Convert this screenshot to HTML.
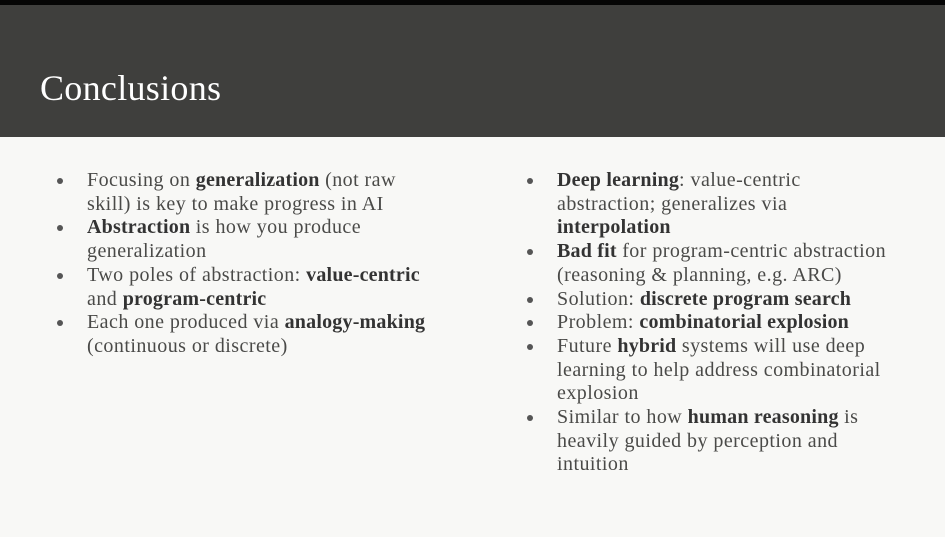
<!DOCTYPE html>
<html><head><style>
html,body{margin:0;padding:0}
body{width:945px;height:537px;overflow:hidden;background:#f8f8f6;position:relative;font-family:"Liberation Serif",serif}
.top{position:absolute;left:0;top:0;width:945px;height:5px;background:#050505}
.hdr{position:absolute;left:0;top:5px;width:945px;height:132px;background:#3f3f3d}
.title{position:absolute;left:40px;top:67px;color:#fff;font-size:36px;letter-spacing:0.3px}
ul{position:absolute;margin:0;padding:0;list-style:none;font-size:20px;letter-spacing:0.45px;line-height:23.7px;color:#4a4a48;white-space:nowrap}
li{position:relative;padding-left:0}
li:before{content:"";position:absolute;left:-30px;top:9px;width:6px;height:6px;border-radius:50%;background:#555}
b{color:#333;letter-spacing:0.2px}
</style></head><body>
<div class="top"></div><div class="hdr"></div>
<div class="title">Conclusions</div>
<ul style="left:87px;top:169px">
<li>Focusing on <b>generalization</b> (not raw<br>skill) is key to make progress in AI</li>
<li><b>Abstraction</b> is how you produce<br>generalization</li>
<li>Two poles of abstraction: <b>value-centric</b><br>and <b>program-centric</b></li>
<li>Each one produced via <b>analogy-making</b><br>(continuous or discrete)</li>
</ul>
<ul style="left:557px;top:169px">
<li><b>Deep learning</b>: value-centric<br>abstraction; generalizes via<br><b>interpolation</b></li>
<li><b>Bad fit</b> for program-centric abstraction<br>(reasoning &amp; planning, e.g. ARC)</li>
<li>Solution: <b>discrete program search</b></li>
<li>Problem: <b>combinatorial explosion</b></li>
<li>Future <b>hybrid</b> systems will use deep<br>learning to help address combinatorial<br>explosion</li>
<li>Similar to how <b>human reasoning</b> is<br>heavily guided by perception and<br>intuition</li>
</ul>
</body></html>
